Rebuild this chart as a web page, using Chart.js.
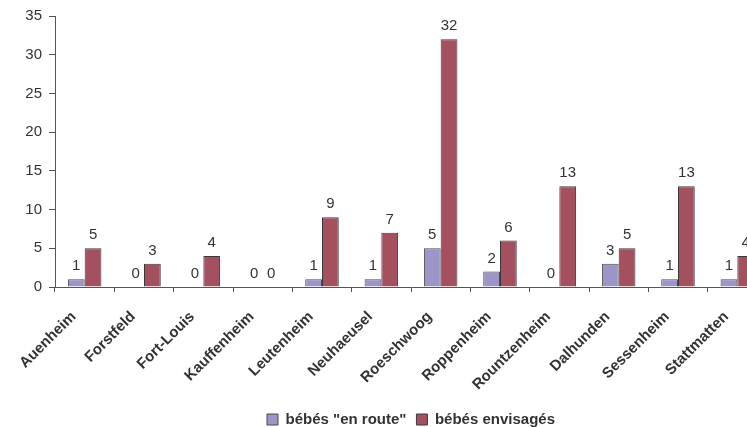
<!DOCTYPE html>
<html>
<head>
<meta charset="utf-8">
<script src="https://cdn.jsdelivr.net/npm/chart.js@4"></script>
<style>
  html, body { margin: 0; padding: 0; background: #fff; overflow: hidden; }
  #wrap { width: 780px; height: 437px; }
</style>
</head>
<body>
<div id="wrap"><canvas id="chart"></canvas></div>
<script>
// Communes and counts
const communes = ["Auenheim", "Forstfeld", "Fort-Louis", "Kauffenheim", "Leutenheim", "Neuhaeusel",
    "Roeschwoog", "Roppenheim", "Rountzenheim", "Dalhunden", "Sessenheim", "Stattmatten"];
const enRoute = [1, 0, 0, 0, 1, 1, 5, 2, 0, 3, 1, 1];
const envisages = [5, 3, 4, 0, 9, 7, 32, 6, 13, 5, 13, 4];
const yTicks = [0, 5, 10, 15, 20, 25, 30, 35];

const FONT = "'Liberation Sans', Arial, sans-serif";
const TEXT = '#333333';
const AXIS = '#555555';

// Draw the value above every bar (zeros included)
const valueLabels = {
    id: 'valueLabels',
    afterDatasetsDraw(chart) {
        const ctx = chart.ctx;
        ctx.save();
        ctx.font = `15px ${FONT}`;
        ctx.fillStyle = TEXT;
        ctx.textAlign = 'center';
        ctx.textBaseline = 'alphabetic';
        chart.data.datasets.forEach((ds, i) => {
            chart.getDatasetMeta(i).data.forEach((bar, j) => {
                ctx.fillText(String(ds.data[j]), bar.x, bar.y - 9);
            });
        });
        ctx.restore();
    }
};

new Chart(document.getElementById('chart'), {
    type: 'bar',
    data: {
        labels: communes,
        datasets: [{
            label: 'bébés "en route"',
            data: enRoute,
            backgroundColor: '#9b95c9',
            borderColor: '#4a4a4a',
            borderWidth: 1,
            barPercentage: 1,
            categoryPercentage: 0.565
        }, {
            label: 'bébés envisagés',
            data: envisages,
            backgroundColor: '#a5505f',
            borderColor: '#3a3a3a',
            borderWidth: 1,
            barPercentage: 1,
            categoryPercentage: 0.565
        }]
    },
    options: {
        responsive: true,
        maintainAspectRatio: false,
        animation: false,
        layout: { padding: { top: 16, left: 0, right: 13, bottom: 0 } },
        plugins: {
            legend: {
                position: 'bottom',
                fullSize: false,
                labels: {
                    font: { family: FONT, size: 15, weight: 'bold' },
                    color: TEXT,
                    boxWidth: 11,
                    boxHeight: 11,
                    padding: 10
                }
            },
            tooltip: { enabled: false }
        },
        scales: {
            x: {
                afterFit: (scale) => { scale.height = 115; },
                grid: {
                    display: true,
                    offset: true,
                    drawOnChartArea: false,
                    tickLength: 5,
                    color: AXIS
                },
                border: { display: true, color: AXIS },
                ticks: {
                    color: TEXT,
                    font: { family: FONT, size: 15, weight: 'bold' },
                    minRotation: 45,
                    maxRotation: 45,
                    autoSkip: false,
                    padding: 16,
                    labelOffset: -11
                }
            },
            y: {
                min: 0,
                max: 35,
                afterFit: (scale) => { scale.width = 55; },
                afterBuildTicks: (scale) => { scale.ticks = yTicks.map(v => ({ value: v })); },
                grid: {
                    display: true,
                    drawOnChartArea: false,
                    tickLength: 6,
                    color: AXIS
                },
                border: { display: true, color: AXIS },
                ticks: {
                    color: TEXT,
                    font: { family: FONT, size: 15 },
                    padding: 7
                }
            }
        }
    },
    plugins: [valueLabels]
});
</script>
</body>
</html>
